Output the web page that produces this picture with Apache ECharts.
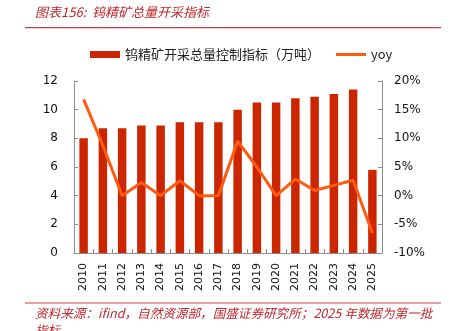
<!DOCTYPE html>
<html>
<head>
<meta charset="utf-8">
<script src="https://cdn.jsdelivr.net/npm/echarts@6/dist/echarts.min.js"></script>
<style>
  html, body { margin: 0; padding: 0; background: #fff; }
  #chart { width: 454px; height: 331px; }
</style>
</head>
<body>
<div id="chart"></div>
<script>
// Tungsten concentrate mining quota (10k tonnes) and year-on-year change
const years = ['2010','2011','2012','2013','2014','2015','2016','2017','2018','2019','2020','2021','2022','2023','2024','2025'];
const quota = [8.0, 8.7, 8.7, 8.9, 8.9, 9.13, 9.13, 9.13, 10.0, 10.5, 10.5, 10.8, 10.9, 11.1, 11.4, 5.8];
const yoy = [16.8, 8.75, 0, 2.3, 0, 2.6, 0, 0, 9.5, 5.0, 0, 2.9, 0.9, 1.8, 2.7, -6.5];
const leftTicks = [0, 12, 2];      // min, max, interval
const rightTicks = [-10, 20, 5];   // min, max, interval (%)

const titleText = '图表156:  钨精矿总量开采指标';
const sourceText = '资料来源：ifind，自然资源部，国盛证券研究所；2025 年数据为第一批\n指标';
const barName = '钨精矿开采总量控制指标（万吨）';
const lineName = 'yoy';

const axisFont = 'DejaVu Sans, sans-serif';
const cjkFont = '"Noto Sans CJK SC", sans-serif';
const red = '#C0282E';

const chart = echarts.init(document.getElementById('chart'), null, { renderer: 'canvas' });
chart.setOption({
  backgroundColor: '#ffffff',
  animation: false,
  graphic: [
    { type: 'text', left: 35, top: 6,
      style: { text: titleText, font: 'italic 13px ' + cjkFont, fill: red } },
    { type: 'rect', shape: { x: 25, y: 27, width: 416, height: 1.2 }, style: { fill: '#C8404A' } },
    { type: 'rect', shape: { x: 25, y: 302.5, width: 416, height: 1 }, style: { fill: '#C8404A' } },
    { type: 'text', left: 35, top: 305,
      style: { text: sourceText, font: 'italic 12.6px ' + cjkFont, fill: red, lineHeight: 17 } }
  ],
  legend: {
    top: 43,
    left: 85,
    itemGap: 16,
    itemWidth: 30,
    itemHeight: 7,
    textStyle: { fontFamily: cjkFont, fontSize: 13, color: '#222' },
    data: [
      { name: barName, icon: 'rect' },
      { name: lineName, icon: 'path://M0,0 L30,0 L30,3 L0,3 Z' }
    ]
  },
  grid: { left: 74, right: 72, top: 81, bottom: 78 },
  xAxis: {
    type: 'category',
    data: years,
    axisLine: { lineStyle: { color: '#8c8c8c', width: 1 } },
    axisTick: { show: true, inside: true, length: 4, alignWithLabel: false, lineStyle: { color: '#8c8c8c' } },
    axisLabel: { rotate: 90, color: '#111', fontFamily: axisFont, fontSize: 11, margin: 10 }
  },
  yAxis: [
    {
      type: 'value', min: leftTicks[0], max: leftTicks[1], interval: leftTicks[2],
      splitLine: { show: false },
      axisLine: { show: true, lineStyle: { color: '#8c8c8c' } },
      axisTick: { show: true, inside: true, length: 4, lineStyle: { color: '#8c8c8c' } },
      axisLabel: { color: '#111', fontFamily: axisFont, fontSize: 12, margin: 16 }
    },
    {
      type: 'value', min: rightTicks[0], max: rightTicks[1], interval: rightTicks[2],
      position: 'right',
      splitLine: { show: false },
      axisLine: { show: true, lineStyle: { color: '#8c8c8c' } },
      axisTick: { show: true, inside: true, length: 4, lineStyle: { color: '#8c8c8c' } },
      axisLabel: { color: '#111', fontFamily: axisFont, fontSize: 12, margin: 12, formatter: v => v + '%' }
    }
  ],
  series: [
    {
      name: barName,
      type: 'bar',
      data: quota,
      barWidth: '44%',
      itemStyle: { color: '#CC2600' }
    },
    {
      name: lineName,
      type: 'line',
      yAxisIndex: 1,
      data: yoy,
      symbol: 'none',
      lineStyle: { color: '#FF5A10', width: 3 },
      itemStyle: { color: '#FF5A10' }
    }
  ]
});
</script>
</body>
</html>
